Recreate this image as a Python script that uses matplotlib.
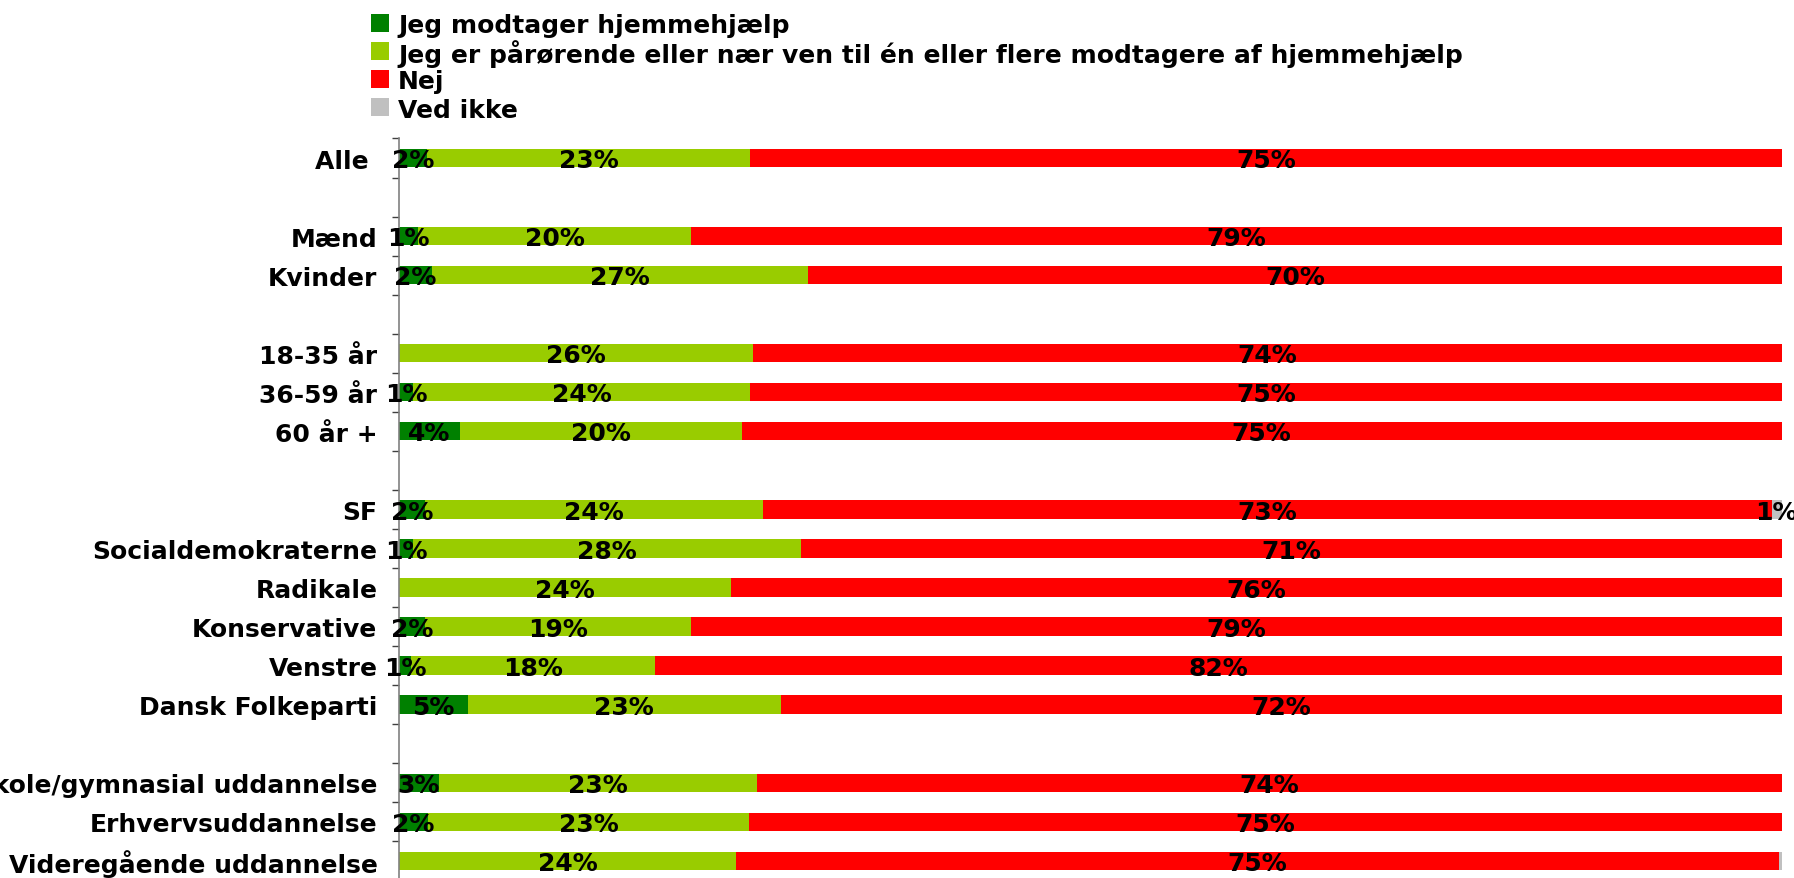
#!/usr/bin/env python3
"""Stacked horizontal bars: share receiving home help (hjemmehjælp) by group."""

import numpy as np
import matplotlib

matplotlib.use("Agg")
import matplotlib.pyplot as plt
from matplotlib.patches import Rectangle

nan = np.nan

# one entry per row, "" = empty spacer row
categories = [
    "Alle ", "",
    "Mænd", "Kvinder", "",
    "18-35 år", "36-59 år", "60 år +", "",
    "SF", "Socialdemokraterne", "Radikale", "Konservative", "Venstre",
    "Dansk Folkeparti", "",
    "Folkeskole/gymnasial uddannelse", "Erhvervsuddannelse",
    "Videregående uddannelse",
]
modtager = [2.0, nan, 1.4, 2.4, nan, 0.0, 1.0, 4.4, nan,
            1.9, 1.0, 0.0, 1.9, 0.9, 5.0, nan, 2.9, 2.1, 0.0]
paaroerende = [23.4, nan, 19.7, 27.2, nan, 25.6, 24.4, 20.4, nan,
               24.4, 28.1, 24.0, 19.2, 17.6, 22.6, nan, 23.0, 23.2, 24.4]
nej = [74.6, nan, 78.9, 70.4, nan, 74.4, 74.6, 75.2, nan,
       73.0, 70.9, 76.0, 78.9, 81.5, 72.4, nan, 74.1, 74.7, 75.4]
ved_ikke = [0.0, nan, 0.0, 0.0, nan, 0.0, 0.0, 0.0, nan,
            0.7, 0.0, 0.0, 0.0, 0.0, 0.0, nan, 0.0, 0.0, 0.2]

series = [
    ("Jeg modtager hjemmehjælp", modtager, "#008000"),
    ("Jeg er pårørende eller nær ven til én eller flere modtagere af hjemmehjælp",
     paaroerende, "#99CC00"),
    ("Nej", nej, "#FF0000"),
    ("Ved ikke", ved_ikke, "#C0C0C0"),
]

FONT = "DejaVu Sans"
FS = 18
W, H = 1794, 879

fig = plt.figure(figsize=(W / 100, H / 100), dpi=100)
ax = fig.add_axes([399 / W, -0.0026, (1781.5 - 399) / W, 0.8439])

n = len(categories)
y = np.arange(n)
left = np.zeros(n)
for name, vals, color in series:
    v = np.nan_to_num(np.array(vals, dtype=float))
    ax.barh(y, v, left=left, height=0.47, color=color, linewidth=0)
    for i in range(n):
        if v[i] >= 0.5:
            # baseline half a cap-height below the bar centre (y axis inverted)
            ax.text(left[i] + v[i] / 2, y[i] + 0.235, f"{v[i]:.0f}%",
                    ha="center", va="baseline", fontsize=FS,
                    fontweight="bold", family=FONT, clip_on=False)
    left += v

ax.set_xlim(0, 100)
ax.set_ylim(n - 0.5, -0.5)

# boundary ticks (major) and category labels (minor, no tick mark)
ax.set_yticks(np.arange(n + 1) - 0.5)
ax.set_yticklabels([])
ax.set_yticks(y, minor=True)
ax.set_yticklabels(categories, minor=True, fontsize=FS, fontweight="bold",
                   family=FONT)
ax.tick_params(axis="y", which="major", length=5, width=1.0, color="#404040",
               direction="out")
ax.tick_params(axis="y", which="minor", length=0, pad=15.5)
ax.set_xticks([])
for s in ("top", "right", "bottom"):
    ax.spines[s].set_visible(False)
ax.spines["left"].set_color("#808080")
ax.spines["left"].set_linewidth(1.2)

# legend drawn by hand so the rows are evenly spaced
for k, (name, _, color) in enumerate(series):
    yc = 24 + 28 * k  # px from top
    fig.add_artist(Rectangle((371 / W, 1 - (yc + 9) / H), 18 / W, 18 / H,
                             transform=fig.transFigure, facecolor=color,
                             edgecolor="none"))
    fig.text(398 / W, 1 - yc / H, name, ha="left", va="center_baseline",
             fontsize=18, fontweight="bold", family=FONT)

fig.savefig("out.png", dpi=100)
